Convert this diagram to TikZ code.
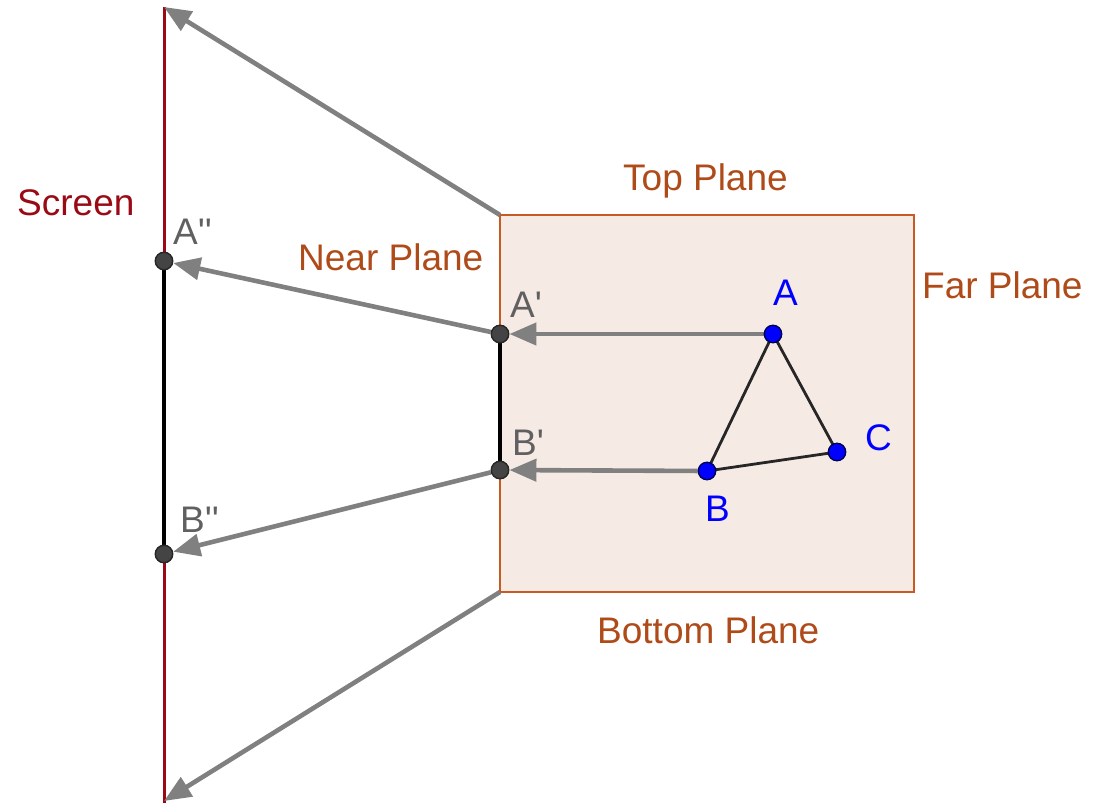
\documentclass[tikz,border=0pt]{standalone}
\usepackage{fontspec}
\setmainfont{Liberation Sans}
\usetikzlibrary{arrows.meta}
\definecolor{scr}{RGB}{153,10,20}
\definecolor{boxfill}{RGB}{246,234,229}
\definecolor{boxline}{RGB}{200,90,35}
\definecolor{plane}{RGB}{175,75,25}
\definecolor{arr}{RGB}{128,128,128}
\definecolor{ptgray}{RGB}{68,68,68}
\definecolor{lbl}{RGB}{96,96,96}
\definecolor{ptblue}{RGB}{0,0,255}
\pgfdeclarelayer{bg}
\pgfsetlayers{bg,main}
\begin{document}
\begin{tikzpicture}[x=1pt,y=-1pt,
  every node/.style={font=\fontsize{37}{42}\selectfont, inner sep=0pt},
  dot/.style={circle,draw=black!85,line width=1.4pt,fill=ptgray,minimum size=17.5pt},
  bdot/.style={circle,draw=black!70!blue,line width=1.3pt,fill=ptblue,minimum size=17.5pt},
  conn/.style={draw=arr,line width=4.6pt,-{Triangle[length=27pt,width=22pt]}},
  seg/.style={draw=black,line width=4.5pt},
  tri/.style={draw=black!85,line width=2.8pt},
  planelbl/.style={text=plane,anchor=base west},
  ptlbl/.style={text=lbl,anchor=base west},
  bluelbl/.style={text=ptblue,anchor=base west}]
\useasboundingbox (0,0) rectangle (1100,803);
% points
\coordinate (scrtop) at (164,7);
\coordinate (scrbot) at (164,803);
\coordinate (tl) at (500,215);
\coordinate (br) at (914,592);
\coordinate (bl) at (500,592);
\coordinate (topend) at (164,7);
\coordinate (botend) at (164,801);
\node[dot] (App) at (164,261) {};
\node[dot] (Bpp) at (164,554) {};
\node[dot] (Ap) at (500,334) {};
\node[dot] (Bp) at (500,470) {};
\node[bdot] (A) at (773,334) {};
\node[bdot] (B) at (707,471) {};
\node[bdot] (C) at (837,452) {};
\begin{pgfonlayer}{bg}
  \draw[fill=boxfill,draw=boxline,line width=2pt] (tl) rectangle (br);
  \draw[draw=scr,line width=3pt] (scrtop) -- (scrbot);
  \draw[seg] (App.center) -- (Bpp.center);
  \draw[seg] (Ap.center) -- (Bp.center);
  \draw[conn] (tl) -- (topend);
  \draw[conn] (bl) -- (botend);
  \draw[conn] (Ap) -- (App);
  \draw[conn] (Bp) -- (Bpp);
  \draw[conn] (A) -- (Ap);
  \draw[conn] (B) -- (Bp);
  \draw[tri] (A.center) -- (B.center) -- (C.center) -- cycle;
\end{pgfonlayer}
% labels
\node[anchor=base west,text=scr] (screenlbl) at (17,215) {Screen};
\node[ptlbl] (lApp) at (173,244) {A\textquotesingle\textquotesingle};
\node[ptlbl] (lBpp) at (180,532) {B\textquotesingle\textquotesingle};
\node[ptlbl] (lAp) at (510,317) {A\textquotesingle};
\node[ptlbl] (lBp) at (512,455) {B\textquotesingle};
\node[bluelbl] (lA) at (773,305) {A};
\node[bluelbl] (lB) at (705,521) {B};
\node[bluelbl] (lC) at (865,450) {C};
\node[planelbl] (near) at (298,270) {Near Plane};
\node[planelbl] (top) at (623,190) {Top Plane};
\node[planelbl] (far) at (922,298) {Far Plane};
\node[planelbl] (bottom) at (597,643) {Bottom Plane};
\end{tikzpicture}
\end{document}
